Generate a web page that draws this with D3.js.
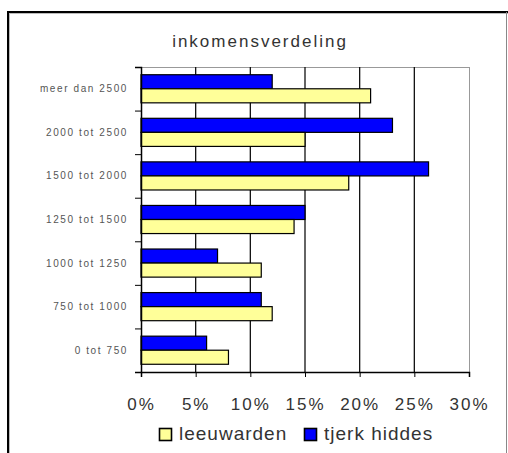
<!DOCTYPE html>
<html>
<head>
<meta charset="utf-8">
<script src="https://cdn.jsdelivr.net/npm/d3@7"></script>
<style>
  body { margin: 0; background: #fff; }
  text { font-family: Arial, "Liberation Sans", sans-serif; }
</style>
</head>
<body>
<svg id="chart" width="508" height="453"></svg>
<script>
// Data (percentages)
const categories = ["meer dan 2500", "2000 tot 2500", "1500 tot 2000", "1250 tot 1500", "1000 tot 1250", "750 tot 1000", "0 tot 750"];
const tjerkHiddes = [12, 23, 26.3, 15, 7, 11, 6];
const leeuwarden = [21, 15, 19, 14, 11, 12, 8];
const xTicks = [0, 5, 10, 15, 20, 25, 30];
const seriesNames = ["leeuwarden", "tjerk hiddes"];
const seriesColors = { "leeuwarden": "#ffff99", "tjerk hiddes": "#0000ff" };

const svg = d3.select("#chart");
const margin = { top: 67, right: 39, bottom: 81, left: 141 };
const width = 508 - margin.left - margin.right;
const height = 453 - margin.top - margin.bottom;

// Outer frame
svg.append("line").attr("x1", 8).attr("x2", 8).attr("y1", 12).attr("y2", 453)
  .attr("stroke", "#000").attr("stroke-width", 2);
svg.append("line").attr("x1", 9.5).attr("x2", 9.5).attr("y1", 13).attr("y2", 453)
  .attr("stroke", "#bbb").attr("stroke-width", 1);
svg.append("line").attr("x1", 7).attr("x2", 508).attr("y1", 12).attr("y2", 12)
  .attr("stroke", "#000").attr("stroke-width", 2);
svg.append("line").attr("x1", 9).attr("x2", 508).attr("y1", 13.5).attr("y2", 13.5)
  .attr("stroke", "#bbb").attr("stroke-width", 1);
svg.append("line").attr("x1", 506.5).attr("x2", 506.5).attr("y1", 12).attr("y2", 453)
  .attr("stroke", "#888").attr("stroke-width", 1);

// Title
svg.append("text")
  .attr("x", 260).attr("y", 47)
  .attr("text-anchor", "middle")
  .attr("font-size", 17)
  .attr("letter-spacing", 2)
  .attr("fill", "#333")
  .text("inkomensverdeling");

const g = svg.append("g").attr("transform", `translate(${margin.left},${margin.top})`);

const xScale = d3.scaleLinear().domain([0, 30]).range([0, width]);
const yScale = d3.scaleBand().domain(categories).range([0, height]);
const inner = d3.scaleBand().domain(["tjerk hiddes", "leeuwarden"])
  .range([0, yScale.bandwidth()]).paddingOuter(0.55).paddingInner(0);

// Plot area border (top/right gray)
g.append("line").attr("x1", 0).attr("x2", width).attr("y1", 0.5).attr("y2", 0.5).attr("stroke", "#999");
g.append("line").attr("x1", width + 0.5).attr("x2", width + 0.5).attr("y1", 0).attr("y2", height).attr("stroke", "#999");

// Gridlines
g.selectAll(".grid")
  .data(xTicks.slice(1, -1))
  .enter().append("line")
  .attr("x1", d => xScale(d)).attr("x2", d => xScale(d))
  .attr("y1", 0).attr("y2", height)
  .attr("stroke", "#111").attr("stroke-width", 1.3);

// Bars
const rows = categories.map((c, i) => ({ cat: c, "tjerk hiddes": tjerkHiddes[i], "leeuwarden": leeuwarden[i] }));
const groups = g.selectAll(".row").data(rows).enter().append("g")
  .attr("transform", d => `translate(0,${yScale(d.cat)})`);
groups.selectAll("rect")
  .data(d => ["tjerk hiddes", "leeuwarden"].map(k => ({ key: k, value: d[k] })))
  .enter().append("rect")
  .attr("x", 0)
  .attr("y", d => inner(d.key))
  .attr("width", d => xScale(d.value))
  .attr("height", inner.bandwidth())
  .attr("fill", d => seriesColors[d.key])
  .attr("stroke", "#000").attr("stroke-width", 1.2);

// Y axis
const yAxis = g.append("g")
  .call(d3.axisLeft(d3.scaleLinear().domain([0, categories.length]).range([0, height]))
    .ticks(categories.length).tickSize(6).tickFormat(""));
yAxis.select(".domain").attr("stroke", "#000").attr("stroke-width", 1.5);
g.selectAll(".ylab")
  .data(categories)
  .enter().append("text")
  .attr("x", -13)
  .attr("y", d => yScale(d) + yScale.bandwidth() / 2 + 3.5)
  .attr("text-anchor", "end")
  .attr("font-size", 10)
  .attr("letter-spacing", 1.6)
  .attr("fill", "#555")
  .text(d => d);

// X axis
const xAxis = g.append("g").attr("transform", `translate(0,${height})`)
  .call(d3.axisBottom(xScale).tickValues(xTicks).tickSize(5).tickFormat(d => d + "%"));
xAxis.select(".domain").attr("stroke", "#000").attr("stroke-width", 1.5);
xAxis.selectAll("line").attr("stroke", "#000");
xAxis.selectAll("text").attr("font-size", 17).attr("letter-spacing", 2).attr("fill", "#333")
  .attr("y", 38).attr("dy", 0)
  .attr("font-family", "Arial, 'Liberation Sans', sans-serif");

// Legend
const legend = svg.append("g").attr("transform", "translate(159,428)");
const legendX = [0, 145];
seriesNames.forEach((name, i) => {
  const lg = legend.append("g").attr("transform", `translate(${legendX[i]},0)`);
  lg.append("rect").attr("x", 0.5).attr("y", 0.5).attr("width", 12).attr("height", 12)
    .attr("fill", seriesColors[name]).attr("stroke", "#000").attr("stroke-width", 1.6);
  lg.append("text").attr("x", 20).attr("y", 12).attr("font-size", 19).attr("letter-spacing", 1)
    .attr("fill", "#333").text(name);
});
</script>
</body>
</html>
